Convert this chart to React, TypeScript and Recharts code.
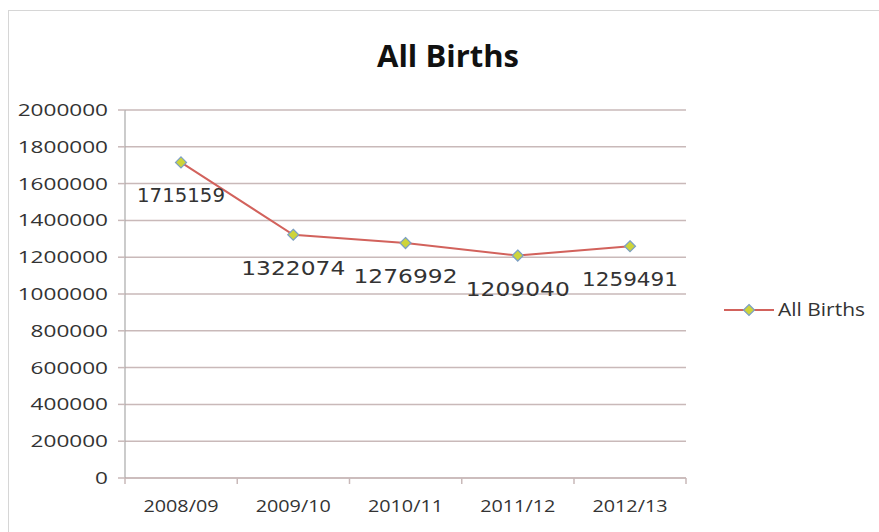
import { CartesianGrid, LabelList, Line, LineChart, XAxis, YAxis } from 'recharts'

const years = ['2008/09', '2009/10', '2010/11', '2011/12', '2012/13']
const births = [1715159, 1322074, 1276992, 1209040, 1259491]
const yTicks = [0, 200000, 400000, 600000, 800000, 1000000, 1200000, 1400000, 1600000, 1800000, 2000000]

const data = years.map((year, i) => ({ year, births: births[i] }))

const GRID = '#c9b9b9'
const LINE = '#d2625c'
const FONT = '"Open Sans", "DejaVu Sans", sans-serif'

// half a category band, so tick marks sit between the categories like Excel
const HALF = 56

function XTick(props: any) {
  const { x, y, payload, index } = props
  return (
    <g>
      <line x1={x - HALF} x2={x - HALF} y1={y - 8} y2={y - 2} stroke={GRID} strokeWidth={1.5} />
      {index === years.length - 1 && (
        <line x1={x + HALF} x2={x + HALF} y1={y - 8} y2={y - 2} stroke={GRID} strokeWidth={1.5} />
      )}
      <text
        x={x}
        y={y + 26}
        textAnchor="middle"
        fontSize={16}
        fill="#333"
        fontFamily={FONT}
        textLength={75}
        lengthAdjust="spacingAndGlyphs"
      >
        {payload.value}
      </text>
    </g>
  )
}

function YTick(props: any) {
  const { x, y, payload } = props
  const s = String(payload.value)
  const w = s.length * 12.9
  return (
    <text
      x={x - 8 - w}
      y={y + 6}
      fontSize={16}
      fill="#333"
      fontFamily={FONT}
      textLength={w}
      lengthAdjust="spacingAndGlyphs"
    >
      {s}
    </text>
  )
}

function Diamond(props: any) {
  const { cx, cy } = props
  const r = 5.5
  return (
    <path
      d={`M${cx},${cy - r}L${cx + r},${cy}L${cx},${cy + r}L${cx - r},${cy}Z`}
      fill="#cdd43a"
      stroke="#7c9fc4"
      strokeWidth={1.2}
    />
  )
}

// the original font draws "1" much narrower than the other digits
function labelWidth(s: string) {
  let w = 0
  for (const c of s) w += c === '1' ? 8 : 16
  return w
}

function PointLabel(props: any) {
  const { x, y, value } = props
  return (
    <text
      x={x}
      y={y + 40}
      textAnchor="middle"
      fontSize={19}
      fill="#333"
      fontFamily={'"DejaVu Sans", sans-serif'}
      textLength={labelWidth(String(value))}
      lengthAdjust="spacingAndGlyphs"
    >
      {value}
    </text>
  )
}

function LegendBox() {
  return (
    <svg width={150} height={24}>
      <line x1={2} x2={52} y1={12} y2={12} stroke={LINE} strokeWidth={2} />
      <path d="M27,6.5L32.5,12L27,17.5L21.5,12Z" fill="#cdd43a" stroke="#7c9fc4" strokeWidth={1.2} />
      <text x={56} y={18} fontSize={18} fill="#333" fontFamily={FONT} textLength={87} lengthAdjust="spacingAndGlyphs">
        All Births
      </text>
    </svg>
  )
}

export default function App() {
  return (
    <div style={{ position: 'absolute', left: 0, top: 0, width: 879, height: 532, overflow: 'hidden', background: '#fff' }}>
      <div
        style={{
          position: 'absolute',
          left: 8,
          top: 10,
          width: 900,
          height: 600,
          border: '1.5px solid #d6d6d6',
        }}
      />
      <div
        style={{
          position: 'absolute',
          left: 0,
          top: 34,
          width: 896,
          textAlign: 'center',
          fontFamily: FONT,
          fontWeight: 700,
          fontSize: 31,
          color: '#111',
        }}
      >
        All Births
      </div>
      <div style={{ position: 'absolute', left: 0, top: 0 }}>
        <LineChart width={879} height={532} data={data} margin={{ top: 110, right: 193, left: 0, bottom: 0 }}>
          <CartesianGrid vertical={false} stroke={GRID} strokeWidth={1.5} />
          <XAxis
            dataKey="year"
            padding={{ left: HALF, right: HALF }}
            height={54}
            axisLine={{ stroke: GRID, strokeWidth: 1.5 }}
            tickLine={false}
            tick={<XTick />}
            interval={0}
          />
          <YAxis
            width={125}
            domain={[0, 2000000]}
            ticks={yTicks}
            interval={0}
            axisLine={{ stroke: '#a9a9a9', strokeWidth: 1.2 }}
            tickLine={{ stroke: GRID, strokeWidth: 1.5 }}
            tickSize={7}
            tick={<YTick />}
          />
          <Line
            type="linear"
            dataKey="births"
            name="All Births"
            stroke={LINE}
            strokeWidth={2}
            dot={<Diamond />}
            activeDot={false}
            isAnimationActive={false}
          >
            <LabelList dataKey="births" content={<PointLabel />} />
          </Line>
        </LineChart>
      </div>
      <div style={{ position: 'absolute', left: 722, top: 298 }}>
        <LegendBox />
      </div>
    </div>
  )
}
